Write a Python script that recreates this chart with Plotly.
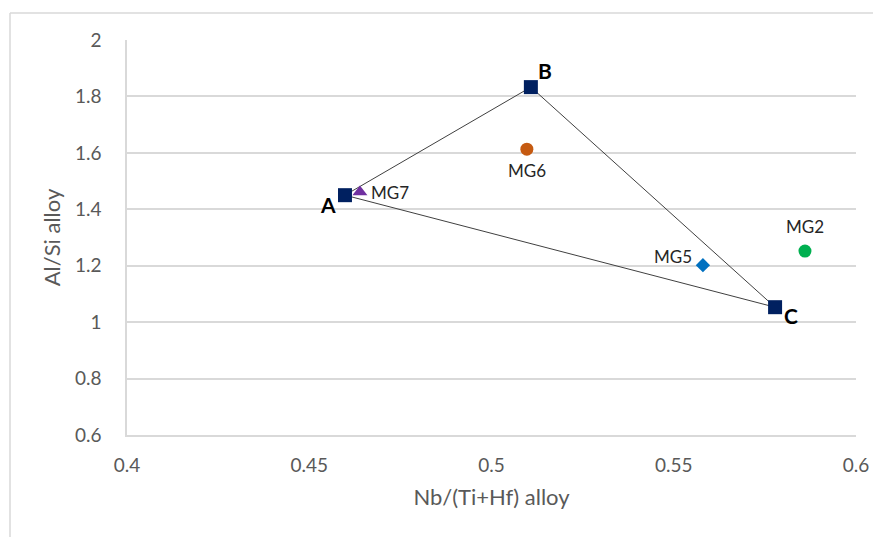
import plotly.graph_objects as go

# Triangle vertices (squares)
vertex_names = ["A", "B", "C"]
vertex_x = [0.4598, 0.5108, 0.5778]
vertex_y = [1.450, 1.833, 1.053]

# Alloy points
alloy_names = ["MG6", "MG7", "MG5", "MG2"]
alloy_x = [0.5097, 0.4639, 0.558, 0.586]
alloy_y = [1.613, 1.461, 1.202, 1.252]
alloy_symbols = ["circle", "triangle-up", "diamond", "circle"]
alloy_colors = ["#C55A11", "#7030A0", "#0070C0", "#00B050"]

x_ticks = [0.4, 0.45, 0.5, 0.55, 0.6]
x_tick_text = ["0.4", "0.45", "0.5", "0.55", "0.6"]
y_ticks = [0.6, 0.8, 1, 1.2, 1.4, 1.6, 1.8, 2]
y_tick_text = ["0.6", "0.8", "1", "1.2", "1.4", "1.6", "1.8", "2"]

FONT = "Lato, 'Open Sans', sans-serif"

fig = go.Figure()

# triangle outline
fig.add_trace(go.Scatter(
    x=vertex_x + [vertex_x[0]], y=vertex_y + [vertex_y[0]],
    mode="lines", line=dict(color="#404040", width=1),
    hoverinfo="skip", showlegend=False))

fig.add_trace(go.Scatter(
    x=vertex_x, y=vertex_y, mode="markers",
    marker=dict(symbol="square", size=14, color="#002060"),
    text=vertex_names, showlegend=False))

for n, x, y, s, c in zip(alloy_names, alloy_x, alloy_y, alloy_symbols, alloy_colors):
    size = 11 if s == "diamond" else 13
    fig.add_trace(go.Scatter(x=[x], y=[y], mode="markers",
                             marker=dict(symbol=s, size=size, color=c),
                             name=n, showlegend=False))

vertex_offsets = {"A": (-17, -9), "B": (14, 17), "C": (16, -8)}
for n, x, y in zip(vertex_names, vertex_x, vertex_y):
    dx, dy = vertex_offsets[n]
    fig.add_annotation(x=x, y=y, text="<b>%s</b>" % n, showarrow=False,
                       xshift=dx, yshift=dy,
                       font=dict(family=FONT, size=21, color="#000000"))

alloy_offsets = {"MG6": (0, -21), "MG7": (30, 0), "MG5": (-30, 9), "MG2": (0, 25)}
for n, x, y in zip(alloy_names, alloy_x, alloy_y):
    dx, dy = alloy_offsets[n]
    fig.add_annotation(x=x, y=y, text=n, showarrow=False,
                       xshift=dx, yshift=dy,
                       font=dict(family=FONT, size=17, color="#262626"))

# outer frame
fig.add_shape(type="line", xref="paper", yref="paper",
              x0=-117/729, x1=1.2, y0=1 + 27/395, y1=1 + 27/395,
              line=dict(color="#d9d9d9", width=1.5))
fig.add_shape(type="line", xref="paper", yref="paper",
              x0=-117/729, x1=-117/729, y0=1 + 27/395, y1=-0.4,
              line=dict(color="#d9d9d9", width=1.5))

# the page body has an 8px margin, so the figure is offset by (8, 8)
fig.update_layout(
    width=873, height=529,
    margin=dict(l=119, r=25, t=32, b=102),
    paper_bgcolor="white", plot_bgcolor="white",
    font=dict(family=FONT, color="#595959"),
    xaxis=dict(range=[0.4, 0.6], tickvals=x_ticks, ticktext=x_tick_text,
               showgrid=False, zeroline=False,
               showline=True, linecolor="#d9d9d9", linewidth=1.5,
               ticks="", ticklabelstandoff=12,
               tickfont=dict(size=19, color="#595959"),
               title=dict(text="Nb/(Ti+Hf) alloy", standoff=15,
                          font=dict(size=22, color="#595959"))),
    yaxis=dict(range=[0.6, 2], tickvals=y_ticks, ticktext=y_tick_text,
               showgrid=True, gridcolor="#d9d9d9", gridwidth=1.5,
               zeroline=False, showline=True, linecolor="#d9d9d9", linewidth=1.5,
               ticks="", ticklabelstandoff=20,
               tickfont=dict(size=19, color="#595959"),
               title=dict(text="Al/Si alloy", standoff=8,
                          font=dict(size=22, color="#595959"))),
)

fig.write_html("out.html")
